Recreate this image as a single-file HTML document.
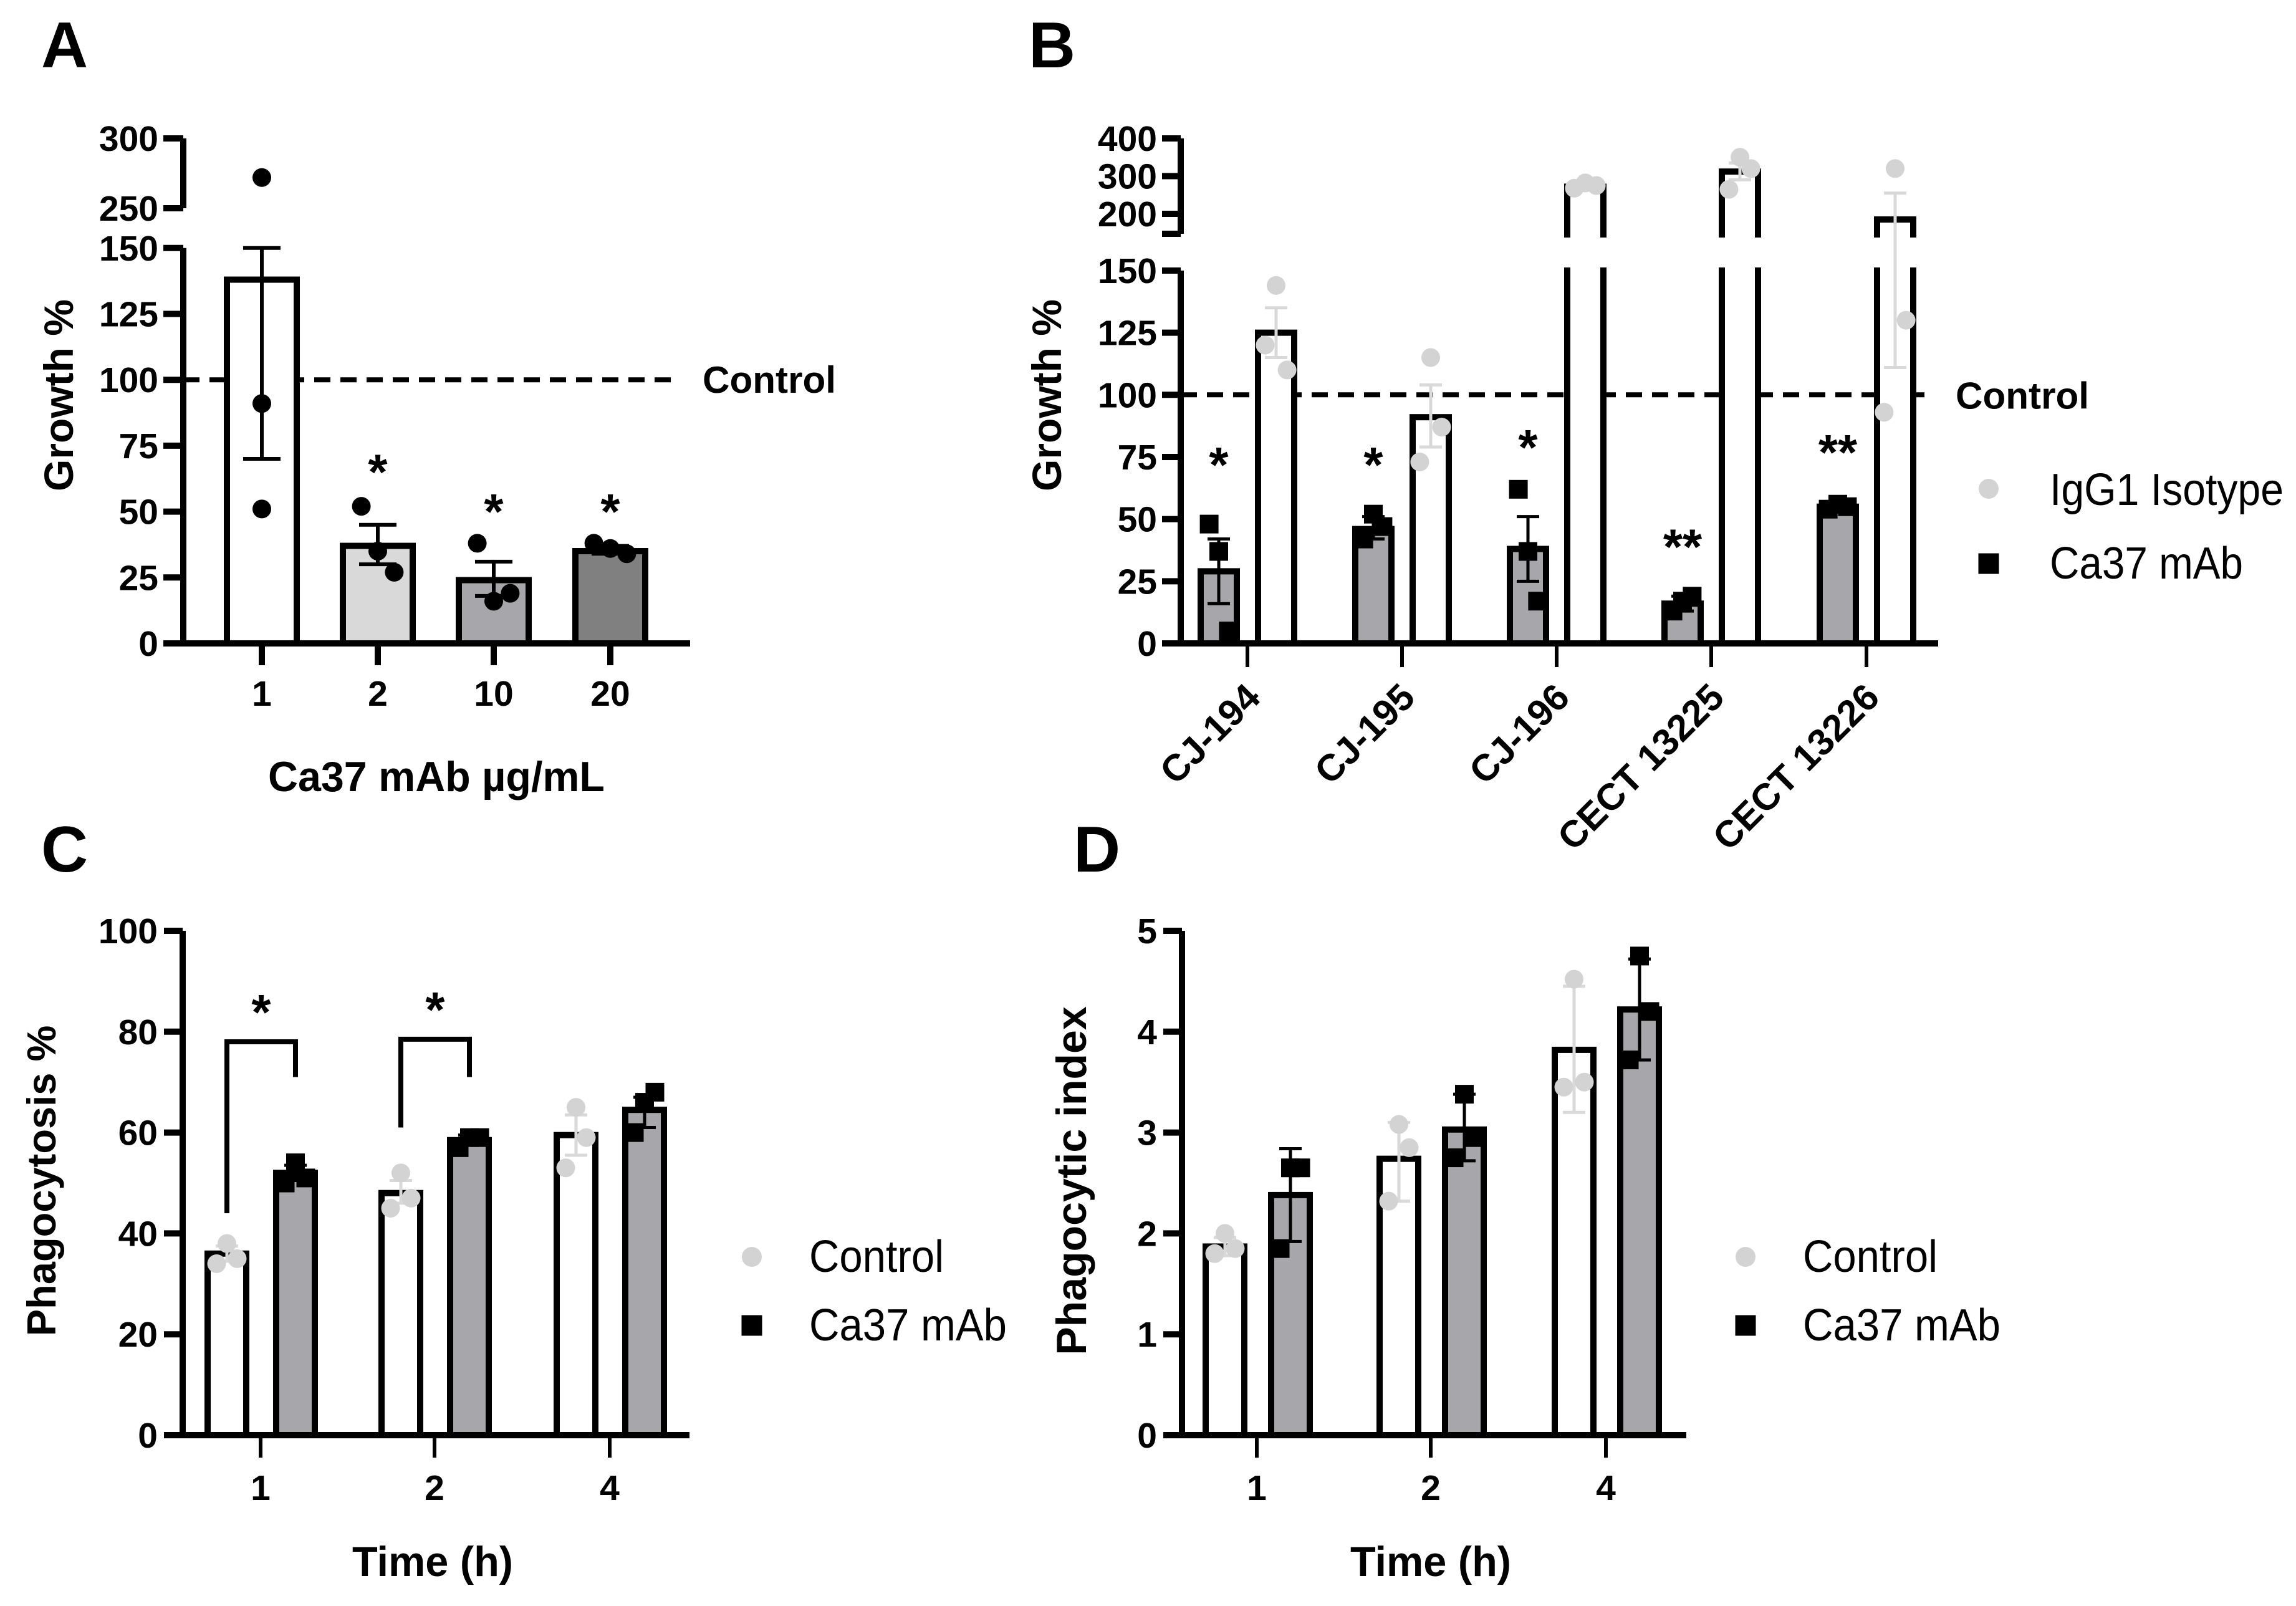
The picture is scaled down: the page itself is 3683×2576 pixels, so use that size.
<!DOCTYPE html>
<html><head><meta charset="utf-8">
<style>
html,body{margin:0;padding:0;background:#fff;}
svg{display:block;font-family:"Liberation Sans",Arial,sans-serif;}
</style></head>
<body>
<svg id="fig" xmlns="http://www.w3.org/2000/svg" width="3683" height="2576" viewBox="0 0 3683 2576">
<rect x="0" y="0" width="3683" height="2576" fill="#fff"/>
<text x="66" y="108" font-size="104" font-weight="bold">A</text>
<text x="1650" y="108" font-size="104" font-weight="bold">B</text>
<text x="66" y="1398" font-size="104" font-weight="bold">C</text>
<text x="1722" y="1398" font-size="104" font-weight="bold">D</text>
</svg>
<script>
// ---------- Panel A data ----------
const aCats = ['1','2','10','20'];
const aMeans = [138, 37, 24, 35];
const aErrLo = [70, 30, 18, 34];
const aErrHi = [150, 45, 31, 37];
const aPts = [[272, 91, 51],[52, 35, 27],[38, 16, 19],[38, 36, 34]];
const aStars = ['', '*', '*', '*'];
const aStarY = [0, 68, 53, 53];
const aFills = ['#ffffff','#d9d9d9','#a6a6ab','#808080'];
const aTicksLow = [0,25,50,75,100,125,150];
const aTicksHigh = [250,300];
// ---------- Panel B data ----------
const bCats = ['CJ-194','CJ-195','CJ-196','CECT 13225','CECT 13226'];
const bCaMeans = [29, 46, 38, 16, 55];
const bCaLo = [16, 42, 25, 13, 53];
const bCaHi = [42, 51, 51, 19, 57];
const bCaPts = [[48, 37, 5],[42, 52, 47],[62, 37, 17],[13, 17, 19],[54, 56, 55]];
const bIgMeans = [125, 91, 272, 312, 185];
const bIgLo = [115, 79, 268, 290, 111];
const bIgHi = [135, 104, 280, 335, 255];
const bIgPts = [[120, 144, 110],[73, 115, 87],[268, 282, 275],[265, 350, 320],[93, 320, 130]];
const bStars = ['*','*','*','**','**'];
const bStarY = [75, 75, 82, 42, 80];
const bTicksLow = [0,25,50,75,100,125,150];
const bTicksHigh = [200,300,400];
// ---------- Panel C data ----------
const cCats = ['1','2','4'];
const cCtrlMeans = [36, 48, 59.5];
const cCtrlLo = [34.5, 46, 55.5];
const cCtrlHi = [37.5, 50.5, 63.5];
const cCtrlPts = [[34, 38, 35],[45, 52, 47],[53, 65, 59]];
const cCaMeans = [52, 58.5, 64.5];
const cCaLo = [50.5, 57.5, 61];
const cCaHi = [53.5, 59.5, 67];
const cCaPts = [[50, 54, 51],[57, 59, 59],[60, 66, 68]];
const cBrackets = [[44, 78, 71],[61, 78.5, 71],null];
const cTicks = [0,20,40,60,80,100];
// ---------- Panel D data ----------
const dCats = ['1','2','4'];
const dCtrlMeans = [1.87, 2.74, 3.82];
const dCtrlLo = [1.78, 2.32, 3.2];
const dCtrlHi = [1.96, 3.1, 4.45];
const dCtrlPts = [[1.8, 2.0, 1.85],[2.32, 3.08, 2.85],[3.45, 4.52, 3.5]];
const dCaMeans = [2.38, 3.03, 4.22];
const dCaLo = [1.92, 2.72, 3.72];
const dCaHi = [2.84, 3.38, 4.72];
const dCaPts = [[1.85, 2.65, 2.65],[2.75, 3.38, 2.95],[3.72, 4.75, 4.2]];
const dTicks = [0,1,2,3,4,5];

const NS = 'http://www.w3.org/2000/svg';
const svg = document.getElementById('fig');
function mk(tag, attrs, parent){
  const e = document.createElementNS(NS, tag);
  for (const k in attrs) e.setAttribute(k, attrs[k]);
  (parent || svg).appendChild(e);
  return e;
}
function txt(x, y, s, size, weight, anchor, extra){
  const t = mk('text', Object.assign({x:x, y:y, 'font-size':size, 'font-weight':weight, 'text-anchor':anchor, fill:'#000'}, extra||{}));
  t.textContent = s;
  return t;
}
const SW = 10;
function line(x1,y1,x2,y2,color,w,dash){
  const a = {x1:x1,y1:y1,x2:x2,y2:y2,stroke:color||'#000','stroke-width':w||SW};
  if (dash) a['stroke-dasharray'] = dash;
  return mk('line', a);
}
function errBar(x, yLo, yHi, cap, color, w){
  const g = mk('g', {});
  
  
  mk('line',{x1:x,y1:yLo,x2:x,y2:yHi,stroke:color,'stroke-width':w},g);
  mk('line',{x1:x-cap/2,y1:yLo,x2:x+cap/2,y2:yLo,stroke:color,'stroke-width':w},g);
  mk('line',{x1:x-cap/2,y1:yHi,x2:x+cap/2,y2:yHi,stroke:color,'stroke-width':w},g);
  return g;
}
function circ(x,y,r,fill){ return mk('circle',{cx:x,cy:y,r:r,fill:fill}); }
function sq(x,y,s,fill){ return mk('rect',{x:x-s/2,y:y-s/2,width:s,height:s,fill:fill}); }
const jit = [-22, 0, 22];
const LS = {lengthAdjust:'spacingAndGlyphs'};

// ================= PANEL A =================
(function(){
  const x0 = 294, x1 = 1107, y0 = 1032;
  const xs = [420, 606, 792, 979];
  function y(v){ return v <= 150 ? y0 - v*4.228 : 334 - (v-250)*2.24; }
  const dl = line(x0, y(100), 1080, y(100), '#000', 8, '26,16');
  
  
  const ct = txt(1127, y(100)+21, 'Control', 60, 'bold', 'start', Object.assign({textLength:214}, LS));
  
  
  aCats.forEach((c,i)=>{
    const bw = 112;
    const r = mk('rect',{x:xs[i]-bw/2, y:y(aMeans[i]), width:bw, height:y0-y(aMeans[i]), fill:aFills[i], stroke:'#000','stroke-width':SW});
    
    
  });
  const ya = line(x0, y(0)+5, x0, y(150));  
  const yb = line(x0, y(250), x0, y(300));  
  const xa = line(x0-30, y0, x1, y0);  
  aTicksLow.concat(aTicksHigh).forEach(v=>{
    line(x0-32, y(v), x0, y(v));
    const t = txt(x0-40, y(v)+20, String(v), 57, 'bold', 'end');
    
    
  });
  aCats.forEach((c,i)=>{
    line(xs[i], y0, xs[i], y0+35);
    const t = txt(xs[i], y0+100, c, 57, 'bold', 'middle');
    
    
    errBar(xs[i], y(aErrLo[i]), y(aErrHi[i]), 60, '#000', 6);
    aPts[i].forEach((v,j)=>{
      const p = circ(xs[i] + (i===0?0:jit[j]*1.2), y(v), 15, '#000');
      
      
    });
    if (aStars[i]) {
      const s = txt(xs[i], y(aStarY[i])+40, aStars[i], 80, 'bold', 'middle');
      
      
    }
  });
  const yt = txt(0,0,'Growth %', 66, 'bold', 'middle', {transform:'translate(117,634) rotate(-90)'});
  
  
  const xt = txt(700, 1269, 'Ca37 mAb µg/mL', 68, 'bold', 'middle', Object.assign({textLength:540}, LS));
  
  
})();

// ================= PANEL B =================
(function(){
  const x0 = 1894, x1 = 3109, y0 = 1032;
  const ticks = [2001, 2249, 2497, 2745, 2994];
  function y(v){ return v <= 150 ? y0 - v*3.987 : 343 - (v-200)*0.605; }
  const dl = line(x0, y(100), 3087, y(100), '#000', 8, '26,16');
  
  
  const ct = txt(3137, y(100)+22, 'Control', 60, 'bold', 'start', Object.assign({textLength:214}, LS));
  
  
  const bw = 58;
  bCats.forEach((c,i)=>{
    const xc = ticks[i]-46, xi = ticks[i]+46;
    const r1 = mk('rect',{x:xc-bw/2, y:y(bCaMeans[i]), width:bw, height:y0-y(bCaMeans[i]), fill:'#a6a6ab', stroke:'#000','stroke-width':SW});
    
    
    const r2 = mk('rect',{x:xi-bw/2, y:y(bIgMeans[i]), width:bw, height:y0-y(bIgMeans[i]), fill:'#fff', stroke:'#000','stroke-width':SW});
    
    
  });
  const gap = mk('rect',{x:x0-60, y:381, width:x1-x0+80, height:48, fill:'#fff'});
  
  
  const ya = line(x0, y0+5, x0, y(150));  
  const yb = line(x0, 375, x0, y(400));  
  line(x0-30, 375, x0, 375);
  const xa = line(x0-30, y0, x1, y0);  
  bTicksLow.concat(bTicksHigh).forEach(v=>{
    line(x0-30, y(v), x0, y(v));
    const t = txt(x0-38, y(v)+20, String(v), 57, 'bold', 'end');
    
    
  });
  bCats.forEach((c,i)=>{
    const xc = ticks[i]-46, xi = ticks[i]+46;
    line(ticks[i], y0, ticks[i], y0+38, '#000', 6);
    const t = txt(0, 0, c, 60, 'bold', 'end', {transform:'translate('+(ticks[i]+24)+',1122) rotate(-45)'});
    
    
    errBar(xi, y(bIgLo[i]), y(bIgHi[i]), 36, '#d9d9d9', 5);
    errBar(xc, y(bCaLo[i]), y(bCaHi[i]), 36, '#000', 5);
    bIgPts[i].forEach((v,j)=>{
      const p = circ(xi + jit[j]*0.8, y(v), 15, '#d3d3d3');
      
      
    });
    bCaPts[i].forEach((v,j)=>{
      const p = sq(xc + jit[j]*0.7, y(v), 30, '#000');
      
      
    });
    const s = txt(xc, y(bStarY[i])+40, bStars[i], 80, 'bold', 'middle');
    
    
  });
  const yt = txt(0,0,'Growth %', 66, 'bold', 'middle', {transform:'translate(1702,634) rotate(-90)'});
  
  
  const l1 = circ(3190, 784, 16, '#d3d3d3');
  
  
  const l1t = txt(3288, 810, 'IgG1 Isotype', 72, 'normal', 'start', Object.assign({textLength:375}, LS));
  
  
  const l2 = sq(3190, 904, 33, '#000');
  
  
  const l2t = txt(3288, 928, 'Ca37 mAb', 72, 'normal', 'start', Object.assign({textLength:310}, LS));
  
  
})();

// ================= Panels C & D =================
function groupedPanel(cfg){
  const y0 = 2302, yTop = 1493;
  function y(v){ return y0 - v/cfg.max*(y0 - yTop); }
  const bw = 62;
  cfg.cats.forEach((c,i)=>{
    const xc = cfg.ticks[i] + cfg.offC, xa = cfg.ticks[i] + cfg.offA;
    const r1 = mk('rect',{x:xc-bw/2, y:y(cfg.ctrlMeans[i]), width:bw, height:y0-y(cfg.ctrlMeans[i]), fill:'#fff', stroke:'#000','stroke-width':SW});
    
    
    const r2 = mk('rect',{x:xa-bw/2, y:y(cfg.caMeans[i]), width:bw, height:y0-y(cfg.caMeans[i]), fill:'#a6a6ab', stroke:'#000','stroke-width':SW});
    
    
  });
  const ya = line(cfg.x0, y0+5, cfg.x0, yTop);  
  const xax = line(cfg.x0-30, y0, cfg.x1, y0);  
  cfg.yTicks.forEach(v=>{
    line(cfg.x0-30, y(v), cfg.x0, y(v));
    const t = txt(cfg.x0-40, y(v)+20, String(v), 57, 'bold', 'end');
    
    
  });
  cfg.cats.forEach((c,i)=>{
    const xc = cfg.ticks[i] + cfg.offC, xa = cfg.ticks[i] + cfg.offA;
    line(cfg.ticks[i], y0, cfg.ticks[i], y0+36, '#000', 6);
    const t = txt(cfg.ticks[i], 2406, c, 57, 'bold', 'middle');
    
    
    errBar(xc, y(cfg.ctrlLo[i]), y(cfg.ctrlHi[i]), 36, '#d9d9d9', 5);
    errBar(xa, y(cfg.caLo[i]), y(cfg.caHi[i]), 36, '#000', 5);
    cfg.ctrlPts[i].forEach((v,j)=>{
      const p = circ(xc + jit[j]*0.75, y(v), 15, '#d3d3d3');
      
      
    });
    cfg.caPts[i].forEach((v,j)=>{
      const p = sq(xa + jit[j]*0.75, y(v), 30, '#000');
      
      
    });
    if (cfg.brackets && cfg.brackets[i]) {
      const b = cfg.brackets[i];
      const pl = mk('polyline',{points: xc+','+y(b[0])+' '+xc+','+y(b[1])+' '+xa+','+y(b[1])+' '+xa+','+y(b[2]), fill:'none', stroke:'#000','stroke-width':8});
      
      
      const s = txt((xc+xa)/2, y(b[1]) - 20, '*', 80, 'bold', 'middle');
      
      
    }
  });
  const yt = txt(0,0,cfg.yTitle, cfg.yTitleSize, 'bold', 'middle', {transform:'translate('+cfg.yTitleX+','+cfg.yTitleY+') rotate(-90)'});
  
  
  const xt = txt(cfg.xTitleX, 2528, 'Time (h)', 68, 'bold', 'middle', Object.assign({textLength:258}, LS));
  
  
  const l1 = circ(cfg.legX, 2016, 16, '#d3d3d3');
  
  
  const l1t = txt(cfg.legX+92, 2040, 'Control', 72, 'normal', 'start', Object.assign({textLength:216}, LS));
  
  
  const l2 = sq(cfg.legX, 2126, 33, '#000');
  
  
  const l2t = txt(cfg.legX+92, 2150, 'Ca37 mAb', 72, 'normal', 'start', Object.assign({textLength:317}, LS));
  
  
}
groupedPanel({x0:293, x1:1106, max:100, ticks:[418,697,978], offC:-54, offA:56,
  cats:cCats, ctrlMeans:cCtrlMeans, ctrlLo:cCtrlLo, ctrlHi:cCtrlHi, ctrlPts:cCtrlPts,
  caMeans:cCaMeans, caLo:cCaLo, caHi:cCaHi, caPts:cCaPts, brackets:cBrackets, yTicks:cTicks,
  yTitle:'Phagocytosis %', yTitleX:89, yTitleY:1894, yTitleSize:65, xTitleX:694, legX:1206});
groupedPanel({x0:1896, x1:2705, max:5, ticks:[2016,2295,2576], offC:-51, offA:54,
  cats:dCats, ctrlMeans:dCtrlMeans, ctrlLo:dCtrlLo, ctrlHi:dCtrlHi, ctrlPts:dCtrlPts,
  caMeans:dCaMeans, caLo:dCaLo, caHi:dCaHi, caPts:dCaPts, brackets:null, yTicks:dTicks,
  yTitle:'Phagocytic index', yTitleX:1742, yTitleY:1894, yTitleSize:68, xTitleX:2295, legX:2800});
</script>
</body></html>
